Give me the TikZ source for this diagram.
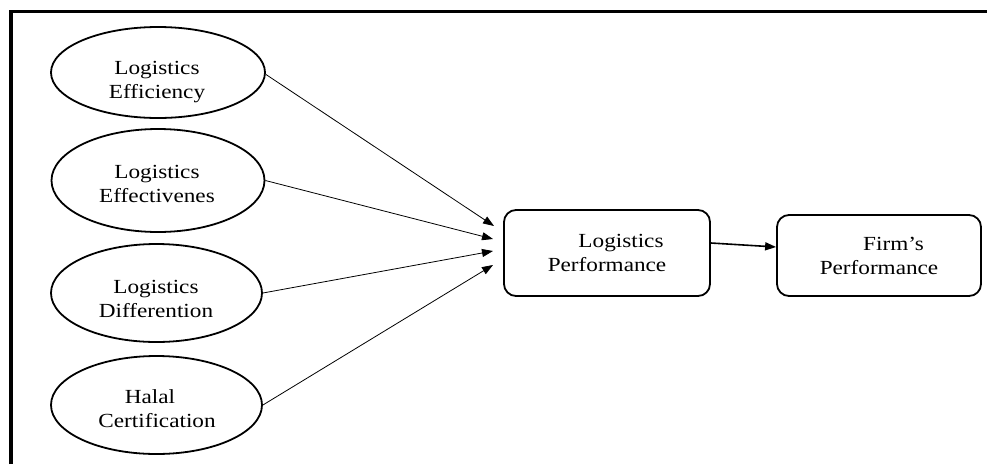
\documentclass[tikz,border=0pt]{standalone}
\usepackage{fontspec}
\newfontfamily\tfont[FakeStretch=1.16]{Liberation Serif}
\usetikzlibrary{arrows.meta,shapes.geometric}
\begin{document}
\begin{tikzpicture}[x=1pt,y=-1pt,
  oval/.style={draw,ellipse,line width=1.8pt,inner sep=0pt},
  rbox/.style={draw,rectangle,rounded corners=12pt,line width=1.8pt,inner sep=0pt,align=center,
    font=\tfont\fontsize{20}{24}\selectfont},
  txt/.style={inner sep=0pt,align=center,font=\tfont\fontsize{20}{24}\selectfont},
  thin arrow/.style={-{Triangle[length=11pt,width=8pt]},line width=0.8pt},
  thick arrow/.style={-{Triangle[length=11pt,width=8pt]},line width=1.6pt}]
\useasboundingbox (0,0) rectangle (987,464);
\fill[white] (0,0) rectangle (987,464);
% frame
\draw[line width=3.5pt] (11,464) -- (11,11.5) -- (987,11.5);
% ellipses
\node[oval,minimum width=214pt,minimum height=91pt] (e1) at (158,72.5) {};
\node[oval,minimum width=213pt,minimum height=103pt] (e2) at (158,180.5) {};
\node[oval,minimum width=211pt,minimum height=98pt] (e3) at (156.5,293) {};
\node[oval,minimum width=211pt,minimum height=98pt] (e4) at (156.5,405) {};
\node[txt] (t1) at (157,82.4) {Logistics\\Efficiency};
\node[txt] (t2) at (157,184) {Logistics\\Effectivenes};
\node[txt] (t3) at (156,298.5) {Logistics\\Differention};
\node[txt] (t4) at (157,408.5) {Halal\rule{14pt}{0pt}\\Certification};
% boxes
\node[rbox,minimum width=206pt,minimum height=86pt] (b1) at (607,253) {\rule{28pt}{0pt}Logistics\\Performance};
\node[rbox,minimum width=204pt,minimum height=81pt] (b2) at (879,255.5) {\rule{29pt}{0pt}Firm’s\\Performance};
% arrow end points
\coordinate (c1) at (494,226);
\coordinate (c2) at (493,239);
\coordinate (c3) at (493,251);
\coordinate (c4) at (493,265);
\draw[thin arrow] (e1.-1.3) -- (c1);
\draw[thin arrow] (e2.-0.8) -- (c2);
\draw[thin arrow] (e3.east) -- (c3);
\draw[thin arrow] (e4.0.5) -- (c4);
\draw[thick arrow] ([yshift=10pt]b1.east) -- ([yshift=8.5pt]b2.west);
\end{tikzpicture}
\end{document}
